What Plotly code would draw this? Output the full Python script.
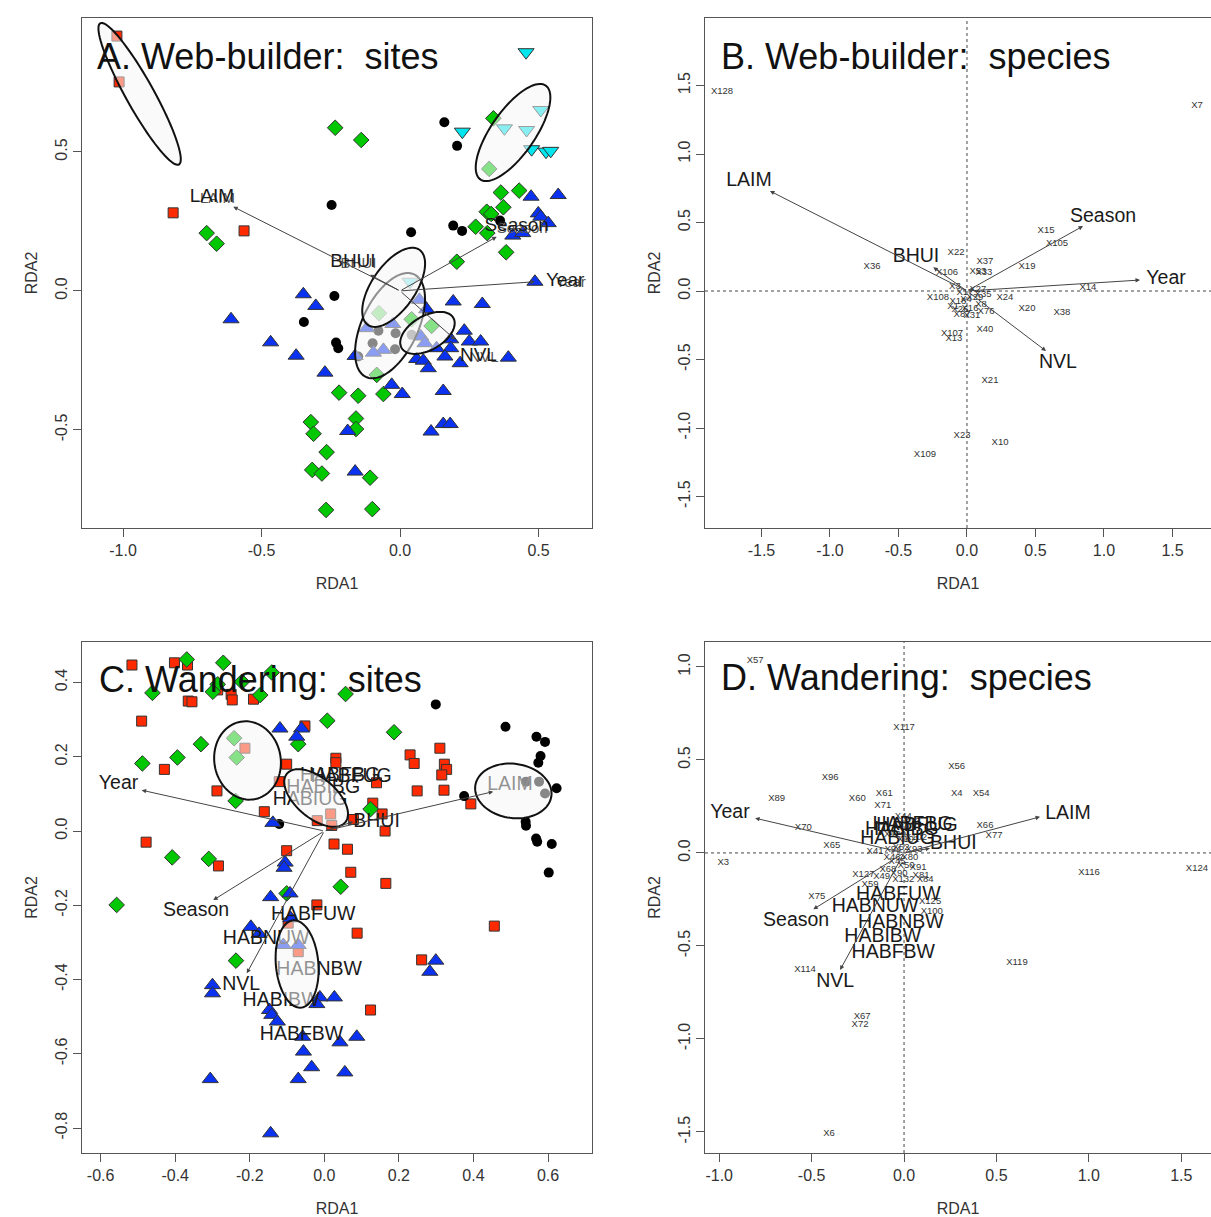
import numpy as np
import plotly.graph_objects as go

FONT = "Liberation Sans, Arial, Helvetica, sans-serif"

# ---------------- Panel A: Web-builder sites ----------------
a_sq_x = [-1.022, -1.014, -0.819, -0.563]
a_sq_y = [0.917, 0.752, 0.281, 0.216]
a_di_x = [-0.234, -0.140, -0.698, -0.662, 0.337, 0.322, 0.364, 0.430, 0.373, 0.313, 0.329, 0.273, 0.315, 0.383, 0.205,
          -0.076, 0.042, 0.114, -0.084, -0.220, -0.151, -0.060, -0.159, -0.159, -0.108, -0.100,
          -0.322, -0.312, -0.265, -0.317, -0.282, -0.267]
a_di_y = [0.587, 0.543, 0.208, 0.170, 0.621, 0.439, 0.354, 0.361, 0.301, 0.285, 0.277, 0.231, 0.208, 0.139, 0.105,
          -0.080, -0.102, -0.126, -0.302, -0.366, -0.377, -0.371, -0.459, -0.497, -0.672, -0.785,
          -0.472, -0.514, -0.580, -0.644, -0.657, -0.788]
a_ci_x = [0.160, 0.206, -0.247, 0.040, 0.192, 0.224, 0.361, -0.237, -0.347, -0.231, -0.223,
          -0.078, -0.016, -0.099, -0.018, -0.151, 0.042]
a_ci_y = [0.607, 0.522, 0.309, 0.211, 0.235, 0.216, 0.253, -0.018, -0.112, -0.186, -0.206,
          -0.143, -0.152, -0.188, -0.210, -0.236, -0.158]
a_tu_x = [0.473, 0.571, 0.499, 0.508, 0.535, 0.407, 0.443, -0.349, -0.304, -0.610, -0.467, -0.375, -0.271,
          0.487, 0.070, 0.192, 0.297, 0.096, -0.026, -0.120, 0.075, 0.090, -0.060, -0.096, -0.162,
          0.232, 0.183, 0.250, 0.291, 0.183, 0.132, 0.162, 0.060, 0.084, 0.102, 0.217, 0.391,
          -0.030, 0.008, 0.156, -0.189, 0.156, 0.181, 0.112, -0.162]
a_tu_y = [0.339, 0.345, 0.279, 0.267, 0.244, 0.199, 0.208, -0.012, -0.054, -0.102, -0.185, -0.233, -0.294,
          0.033, -0.032, -0.038, -0.047, -0.066, -0.119, -0.134, -0.164, -0.188, -0.212, -0.222, -0.234,
          -0.143, -0.174, -0.182, -0.182, -0.206, -0.206, -0.236, -0.245, -0.251, -0.278, -0.260, -0.240,
          -0.338, -0.371, -0.360, -0.504, -0.479, -0.479, -0.506, -0.650]
a_td_x = [0.455, 0.225, 0.508, 0.377, 0.457, 0.475, 0.527, 0.544, 0.036]
a_td_y = [0.859, 0.573, 0.651, 0.585, 0.579, 0.510, 0.501, 0.504, 0.033]

a_env = ["LAIM", "BHUI", "Season", "Year", "NVL"]
a_arrow_x = [-0.602, -0.108, 0.349, 0.487, 0.200]
a_arrow_y = [0.303, 0.058, 0.195, 0.033, -0.176]
a_lab_x = [-0.679, -0.170, 0.421, 0.596, 0.283]
a_lab_y = [0.338, 0.104, 0.231, 0.036, -0.236]

a_ell_cx = [-0.940, 0.408, -0.036, -0.023, 0.099]
a_ell_cy = [0.709, 0.570, -0.125, 0.013, -0.151]
a_ell_a = [0.291, 0.206, 0.204, 0.164, 0.108]
a_ell_b = [0.0505, 0.079, 0.101, 0.079, 0.061]
a_ell_ang = [119.2, 55.0, 64.7, 55.5, 30.0]

# ---------------- Panel B: Web-builder species ----------------
b_sp = ["X128", "X7", "X36", "X22", "X37", "X106", "X53", "X33", "X15", "X105", "X19", "X24", "X20", "X38",
        "X14", "X108", "X107", "X13", "X40", "X21", "X23", "X10", "X109",
        "X3", "X35", "X8", "X76", "X1", "X87", "X4", "X16", "X26", "X29", "X31", "X17", "X27", "X18"]
b_sp_x = [-1.788, 1.679, -0.693, -0.080, 0.131, -0.146, 0.080, 0.124, 0.577, 0.657, 0.438, 0.277, 0.438, 0.693,
          0.883, -0.212, -0.109, -0.095, 0.131, 0.168, -0.036, 0.241, -0.307,
          -0.088, 0.117, 0.102, 0.139, -0.102, -0.036, -0.007, 0.022, -0.051, 0.058, 0.036, -0.015, 0.080, -0.066]
b_sp_y = [1.453, 1.350, 0.175, 0.277, 0.212, 0.131, 0.139, 0.131, 0.438, 0.343, 0.175, -0.051, -0.131, -0.161,
          0.022, -0.051, -0.314, -0.350, -0.285, -0.657, -1.058, -1.109, -1.197,
          0.029, -0.029, -0.102, -0.153, -0.117, -0.175, -0.066, -0.131, -0.139, -0.051, -0.182, -0.015, 0.007, -0.080]
b_env = ["LAIM", "BHUI", "Season", "Year", "NVL"]
b_arrow_x = [-1.438, -0.246, 0.847, 1.263, 0.577]
b_arrow_y = [0.730, 0.173, 0.474, 0.080, -0.438]
b_lab_x = [-1.591, -0.372, 0.993, 1.453, 0.664]
b_lab_y = [0.803, 0.248, 0.540, 0.088, -0.526]

# ---------------- Panel C: Wandering sites ----------------
c_sq_x = [-0.516, -0.402, -0.367, -0.490, -0.250, -0.247, -0.365, -0.355, -0.190, -0.286, -0.429, -0.213, -0.101,
          -0.121, -0.288, -0.161, -0.052, -0.478, -0.101, -0.284, 0.026, 0.031, 0.031, 0.017, -0.019, 0.020,
          0.230, 0.241, 0.310, 0.322, 0.328, 0.315, 0.249, 0.321, 0.140, 0.130, 0.155, 0.078, 0.163, 0.393,
          0.062, 0.071, 0.165, -0.020, -0.070, -0.097, 0.088, 0.456, 0.261, 0.124]
c_sq_y = [0.447, 0.453, 0.447, 0.296, 0.368, 0.353, 0.350, 0.348, 0.355, 0.380, 0.166, 0.223, 0.180,
          0.133, 0.108, 0.052, 0.283, -0.030, -0.053, -0.094, -0.035, 0.196, 0.184, 0.046, 0.028, 0.015,
          0.205, 0.182, 0.223, 0.180, 0.166, 0.151, 0.108, 0.110, 0.130, 0.075, 0.046, 0.031, 0.000, 0.073,
          -0.049, -0.111, -0.141, -0.199, -0.325, -0.248, -0.275, -0.256, -0.347, -0.482]
c_di_x = [-0.369, -0.271, -0.461, -0.141, -0.286, -0.299, -0.172, -0.221, 0.008, -0.331, -0.394, -0.488, -0.242,
          -0.235, -0.238, -0.070, -0.408, -0.310, -0.101, 0.057, 0.187, 0.124, 0.044, -0.557, -0.237]
c_di_y = [0.462, 0.453, 0.372, 0.427, 0.395, 0.375, 0.366, 0.402, 0.297, 0.234, 0.198, 0.182, 0.250,
          0.198, 0.081, 0.234, -0.071, -0.075, -0.168, 0.369, 0.266, 0.059, -0.150, -0.199, -0.349]
c_ci_x = [-0.121, 0.299, 0.486, 0.569, 0.592, 0.580, 0.574, 0.623, 0.375, 0.541, 0.576, 0.592, 0.540, 0.541,
          0.568, 0.571, 0.610, 0.602]
c_ci_y = [0.019, 0.341, 0.281, 0.254, 0.240, 0.202, 0.184, 0.115, 0.094, 0.133, 0.133, 0.101, 0.025, 0.014,
          -0.020, -0.029, -0.035, -0.112]
c_tu_x = [-0.119, -0.061, -0.074, -0.138, -0.105, -0.108, -0.144, -0.092, -0.197, -0.175, -0.090, -0.110, -0.070,
          -0.300, -0.300, -0.147, -0.141, -0.126, -0.012, 0.027, -0.020, -0.058, -0.056, -0.034, -0.070, -0.306,
          -0.144, 0.299, 0.283, 0.087, 0.042, 0.055]
c_tu_y = [0.276, 0.276, 0.254, 0.022, -0.085, -0.099, -0.178, -0.168, -0.258, -0.277, -0.235, -0.307, -0.307,
          -0.415, -0.437, -0.482, -0.495, -0.513, -0.448, -0.448, -0.466, -0.554, -0.594, -0.636, -0.668, -0.668,
          -0.814, -0.349, -0.379, -0.554, -0.569, -0.650]

c_env = ["LAIM", "BHUI", "Year", "Season", "NVL"]
c_arrow_x = [0.453, 0.078, -0.490, -0.298, -0.208]
c_arrow_y = [0.106, 0.025, 0.110, -0.186, -0.383]
c_lab_x = [0.498, 0.140, -0.552, -0.344, -0.223]
c_lab_y = [0.124, 0.025, 0.127, -0.217, -0.415]
c_hab = ["HABFBG", "HABFUG", "HABIBG", "HABIUG", "HABFUW", "HABNUW", "HABNBW", "HABIBW", "HABFBW"]
c_hab_x = [0.042, 0.072, -0.003, -0.038, -0.030, -0.156, -0.014, -0.116, -0.061]
c_hab_y = [0.148, 0.146, 0.115, 0.083, -0.226, -0.292, -0.374, -0.459, -0.549]

c_ell_cx = [-0.206, -0.022, 0.507, -0.073]
c_ell_cy = [0.190, 0.089, 0.108, -0.358]
c_ell_a = [0.106, 0.102, 0.103, 0.118]
c_ell_b = [0.089, 0.054, 0.073, 0.057]
c_ell_ang = [100.0, -40.0, -8.0, 95.0]

# ---------------- Panel D: Wandering species ----------------
d_sp = ["X57", "X117", "X56", "X96", "X89", "X60", "X61", "X71", "X4", "X54", "X70", "X65", "X41", "X3", "X66",
        "X77", "X116", "X124", "X75", "X114", "X119", "X67", "X72", "X6", "X100", "X125", "X132", "X49", "X127",
        "X59", "X44", "X13", "X81", "X84", "X91", "X45", "X46", "X50", "X52", "X68", "X80", "X90", "X93", "X94",
        "X101", "X102", "X129"]
d_sp_x = [-0.806, 0.000, 0.285, -0.400, -0.689, -0.253, -0.107, -0.115, 0.285, 0.417, -0.545, -0.391, -0.157,
          -0.978, 0.438, 0.487, 1.001, 1.585, -0.472, -0.536, 0.611, -0.227, -0.238, -0.406, 0.150, 0.141, -0.004,
          -0.121, -0.220, -0.184, -0.004, 0.043, 0.092, 0.114, 0.076, -0.038, -0.065, 0.011, -0.016, -0.087, 0.032,
          -0.027, 0.054, -0.060, 0.022, 0.065, -0.049]
d_sp_y = [1.034, 0.676, 0.464, 0.407, 0.290, 0.294, 0.317, 0.254, 0.317, 0.317, 0.136, 0.039, 0.007,
          -0.052, 0.145, 0.091, -0.108, -0.086, -0.235, -0.629, -0.591, -0.882, -0.925, -1.511, -0.316, -0.262,
          -0.145, -0.127, -0.118, -0.172, 0.195, 0.167, -0.124, -0.145, -0.081, -0.048, -0.027, -0.070, 0.027,
          -0.091, -0.027, -0.113, 0.016, 0.016, 0.070, 0.081, 0.097]
d_env = ["LAIM", "BHUI", "Year", "Season", "NVL"]
d_arrow_x = [0.736, 0.141, -0.806, -0.491, -0.346]
d_arrow_y = [0.194, 0.025, 0.187, -0.303, -0.629]
d_lab_x = [0.887, 0.267, -0.942, -0.584, -0.373]
d_lab_y = [0.210, 0.048, 0.215, -0.366, -0.694]
d_hab = ["HABFUG", "HABFBG", "HABIBG", "HABIUG", "HABFUW", "HABNUW", "HABNBW", "HABIBW", "HABFBW"]
d_hab_x = [0.070, 0.046, -0.012, -0.035, -0.031, -0.157, -0.017, -0.115, -0.058]
d_hab_y = [0.146, 0.151, 0.124, 0.074, -0.226, -0.289, -0.375, -0.450, -0.539]

titles = ["A. Web-builder:\u00a0 sites", "B. Web-builder:\u00a0 species",
          "C. Wandering:\u00a0 sites", "D. Wandering:\u00a0 species"]

RED, GREEN, BLUE, CYAN = "#FF2A00", "#00C800", "#0A32F0", "#00E5EE"
EDGE = "#333333"

fig = go.Figure()


def pts(x, y, xa, ya, symbol, color, size, edge=True):
    fig.add_trace(go.Scatter(
        x=x, y=y, mode="markers", xaxis=xa, yaxis=ya, hoverinfo="skip", showlegend=False,
        marker=dict(symbol=symbol, color=color, size=size,
                    line=dict(color=EDGE, width=1 if edge else 0))))


def txt(x, y, t, xa, ya, size, color="#1a1a1a"):
    fig.add_trace(go.Scatter(
        x=x, y=y, text=t, mode="text", xaxis=xa, yaxis=ya, hoverinfo="skip", showlegend=False,
        textposition="middle center", textfont=dict(size=size, color=color, family=FONT)))


def ell_path(cx, cy, a, b, ang):
    t = np.linspace(0, 2 * np.pi, 90)
    th = np.radians(ang)
    xs = cx + a * np.cos(t) * np.cos(th) - b * np.sin(t) * np.sin(th)
    ys = cy + a * np.cos(t) * np.sin(th) + b * np.sin(t) * np.cos(th)
    return "M " + " L ".join(f"{px:.4f},{py:.4f}" for px, py in zip(xs, ys)) + " Z"


shapes = []
annotations = []


def ellipses(cxs, cys, As, Bs, angs, xa, ya):
    for cx, cy, a, b, ang in zip(cxs, cys, As, Bs, angs):
        shapes.append(dict(type="path", path=ell_path(cx, cy, a, b, ang), xref=xa, yref=ya,
                           fillcolor="rgba(246,246,246,0.55)", line=dict(color="#111111", width=2),
                           layer="above"))


def arrows(xs, ys, xa, ya):
    for x, y in zip(xs, ys):
        annotations.append(dict(x=x, y=y, ax=0, ay=0, xref=xa, yref=ya, axref=xa, ayref=ya, text="",
                                showarrow=True, arrowhead=2, arrowsize=0.9, arrowwidth=1,
                                arrowcolor="#444444", standoff=0, startstandoff=0))


# Panel A
pts(a_sq_x, a_sq_y, "x", "y", "square", RED, 10)
pts(a_di_x, a_di_y, "x", "y", "diamond", GREEN, 12)
pts(a_ci_x, a_ci_y, "x", "y", "circle", "#000000", 10, edge=False)
pts(a_tu_x, a_tu_y, "x", "y", "triangle-up", BLUE, 14)
pts(a_td_x, a_td_y, "x", "y", "triangle-down", CYAN, 14)
txt([v + 0.02 for v in a_lab_x], [v - 0.008 for v in a_lab_y], a_env, "x", "y", 15, "#555555")
txt(a_lab_x, a_lab_y, a_env, "x", "y", 19)
arrows(a_arrow_x, a_arrow_y, "x", "y")
ellipses(a_ell_cx, a_ell_cy, a_ell_a, a_ell_b, a_ell_ang, "x", "y")

# Panel B
txt(b_sp_x, b_sp_y, b_sp, "x2", "y2", 9.5, "#333333")
txt(b_lab_x, b_lab_y, b_env, "x2", "y2", 19.5)
arrows(b_arrow_x, b_arrow_y, "x2", "y2")

# Panel C
pts(c_sq_x, c_sq_y, "x3", "y3", "square", RED, 10)
pts(c_di_x, c_di_y, "x3", "y3", "diamond", GREEN, 12)
pts(c_ci_x, c_ci_y, "x3", "y3", "circle", "#000000", 10, edge=False)
pts(c_tu_x, c_tu_y, "x3", "y3", "triangle-up", BLUE, 14)
txt(c_hab_x, c_hab_y, c_hab, "x3", "y3", 19.5)
txt(c_lab_x, c_lab_y, c_env, "x3", "y3", 19.5)
arrows(c_arrow_x, c_arrow_y, "x3", "y3")
ellipses(c_ell_cx, c_ell_cy, c_ell_a, c_ell_b, c_ell_ang, "x3", "y3")

# Panel D
txt(d_sp_x, d_sp_y, d_sp, "x4", "y4", 9.5, "#333333")
txt(d_hab_x, d_hab_y, d_hab, "x4", "y4", 19.5)
txt(d_lab_x, d_lab_y, d_env, "x4", "y4", 19.5)
arrows(d_arrow_x, d_arrow_y, "x4", "y4")

# dotted zero lines in species panels
for xa, ya in [("x2", "y2"), ("x4", "y4")]:
    shapes.append(dict(type="line", xref=xa, yref=ya + " domain", x0=0, x1=0, y0=0, y1=1,
                       line=dict(color="#444444", width=1, dash="dot"), layer="below"))
    shapes.append(dict(type="line", xref=xa + " domain", yref=ya, x0=0, x1=1, y0=0, y1=0,
                       line=dict(color="#444444", width=1, dash="dot"), layer="below"))

# panel titles
W, H = 1211, 1217
for t, (px, py) in zip(titles, [(95, 56), (719, 56), (97, 679), (719, 677)]):
    annotations.append(dict(text=t, x=px / W, y=1 - py / H, xref="paper", yref="paper",
                            xanchor="left", yanchor="middle", showarrow=False,
                            font=dict(size=36, color="#111111", family=FONT)))


def xaxis(domain, rng, vals, anchor, mirror=True):
    return dict(domain=domain, range=rng, tickvals=vals, ticktext=[f"{v:.1f}" for v in vals],
                ticks="outside", ticklen=8, tickwidth=1, tickcolor="#555555", showline=True,
                linecolor="#555555", linewidth=1, mirror=mirror, showgrid=False, zeroline=False,
                tickfont=dict(size=16, color="#333333", family=FONT), anchor=anchor,
                title=dict(text="RDA1", font=dict(size=16, color="#333333", family=FONT), standoff=19))


def yaxis(domain, rng, vals, anchor, mirror=True):
    d = xaxis(domain, rng, vals, anchor, mirror)
    d["tickangle"] = -90
    d["title"] = dict(text="RDA2", font=dict(size=16, color="#333333", family=FONT), standoff=10)
    return d


xl = [82 / W, 592 / W]
xr = [705 / W, 1.0]
yt = [1 - 528 / H, 1 - 18 / H]
yb = [1 - 1153 / H, 1 - 642 / H]

fig.update_layout(
    width=W, height=H, margin=dict(l=0, r=0, t=0, b=0),
    paper_bgcolor="white", plot_bgcolor="white", showlegend=False,
    font=dict(family=FONT),
    xaxis=xaxis(xl, [-1.148, 0.693], [-1.0, -0.5, 0.0, 0.5], "y"),
    yaxis=yaxis(yt, [-0.853, 0.982], [-0.5, 0.0, 0.5], "x"),
    xaxis2=xaxis(xr, [-1.912, 1.781], [-1.5, -1.0, -0.5, 0.0, 0.5, 1.0, 1.5], "y2"),
    yaxis2=yaxis(yt, [-1.730, 1.993], [-1.5, -1.0, -0.5, 0.0, 0.5, 1.0, 1.5, 2.0], "x2", mirror=False),
    xaxis3=xaxis(xl, [-0.650, 0.718], [-0.6, -0.4, -0.2, 0.0, 0.2, 0.4, 0.6], "y3"),
    yaxis3=yaxis(yb, [-0.867, 0.509], [-0.8, -0.6, -0.4, -0.2, 0.0, 0.2, 0.4], "x3"),
    xaxis4=xaxis(xr, [-1.077, 1.661], [-1.0, -0.5, 0.0, 0.5, 1.0, 1.5], "y4"),
    yaxis4=yaxis(yb, [-1.613, 1.134], [-1.5, -1.0, -0.5, 0.0, 0.5, 1.0], "x4", mirror=False),
    shapes=shapes, annotations=annotations,
)

fig.write_html("out.html")
